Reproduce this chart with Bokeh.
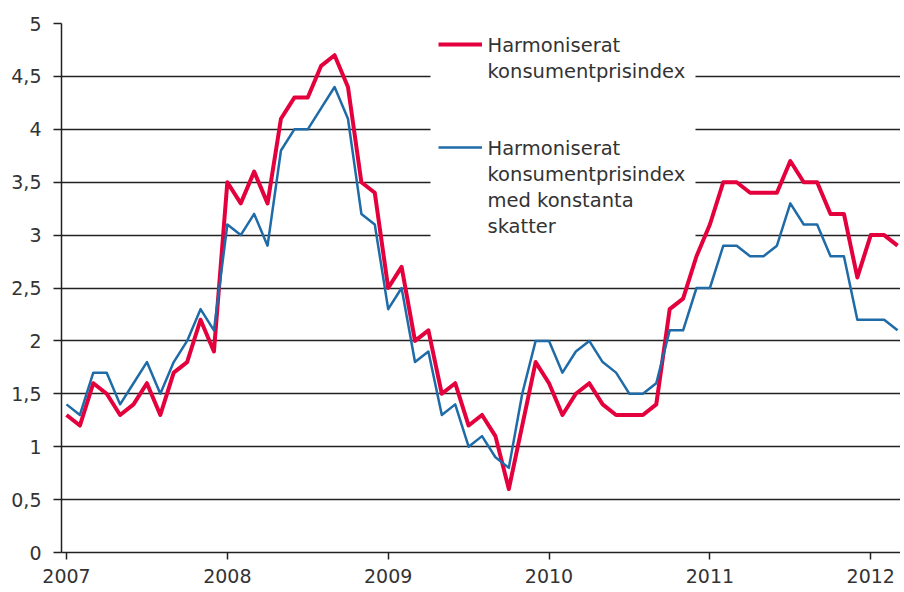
from bokeh.plotting import figure
from bokeh.models import (Range1d, FixedTicker, CustomJSTickFormatter, Grid,
                          Legend, LegendItem, Label, BoxAnnotation)
from bokeh.embed import file_html
from bokeh.resources import INLINE

# ---- data -------------------------------------------------------------
start_year = 2007
hicp = [
    1.3, 1.2, 1.6, 1.5, 1.3, 1.4, 1.6, 1.3, 1.7, 1.8, 2.2, 1.9,
    3.5, 3.3, 3.6, 3.3, 4.1, 4.3, 4.3, 4.6, 4.7, 4.4, 3.5, 3.4,
    2.5, 2.7, 2.0, 2.1, 1.5, 1.6, 1.2, 1.3, 1.1, 0.6, 1.2, 1.8,
    1.6, 1.3, 1.5, 1.6, 1.4, 1.3, 1.3, 1.3, 1.4, 2.3, 2.4, 2.8,
    3.1, 3.5, 3.5, 3.4, 3.4, 3.4, 3.7, 3.5, 3.5, 3.2, 3.2, 2.6,
    3.0, 3.0, 2.9,
]
hicp_const_tax = [
    1.4, 1.3, 1.7, 1.7, 1.4, 1.6, 1.8, 1.5, 1.8, 2.0, 2.3, 2.1,
    3.1, 3.0, 3.2, 2.9, 3.8, 4.0, 4.0, 4.2, 4.4, 4.1, 3.2, 3.1,
    2.3, 2.5, 1.8, 1.9, 1.3, 1.4, 1.0, 1.1, 0.9, 0.8, 1.5, 2.0,
    2.0, 1.7, 1.9, 2.0, 1.8, 1.7, 1.5, 1.5, 1.6, 2.1, 2.1, 2.5,
    2.5, 2.9, 2.9, 2.8, 2.8, 2.9, 3.3, 3.1, 3.1, 2.8, 2.8, 2.2,
    2.2, 2.2, 2.1,
]
x_ticks = [2007, 2008, 2009, 2010, 2011, 2012]
y_ticks = [0, 0.5, 1, 1.5, 2, 2.5, 3, 3.5, 4, 4.5, 5]
label_hicp = "Harmoniserat\nkonsumentprisindex"
label_const = "Harmoniserat\nkonsumentprisindex\nmed konstanta\nskatter"

x = [start_year + i / 12 for i in range(len(hicp))]

FONT = "DejaVu Sans"
TXT = "#333333"

p = figure(width=900, height=590, output_backend="svg", toolbar_location=None,
           x_range=Range1d(2006.969, 2012.185), y_range=Range1d(0, 5),
           min_border_left=61, min_border_right=0, min_border_top=23,
           min_border_bottom=38)
p.outline_line_color = None
p.background_fill_color = "white"
p.border_fill_color = "white"

# grid
p.xgrid.visible = False
p.ygrid.ticker = FixedTicker(ticks=[t for t in y_ticks if 0 < t < 5])
p.ygrid.grid_line_color = "#222222"
p.ygrid.grid_line_width = 1.5
top_grid = Grid(dimension=1, ticker=FixedTicker(ticks=[5]),
                grid_line_color="#9a9a9a", grid_line_width=1.5,
                grid_line_dash="2 2")
p.add_layout(top_grid)

# lines
r_red = p.line(x, hicp, line_color="#E4003C", line_width=4, line_join="round")
r_blue = p.line(x, hicp_const_tax, line_color="#1E6BA8", line_width=2.5,
                line_join="round")

# axes
p.yaxis.ticker = FixedTicker(ticks=y_ticks)
p.yaxis.formatter = CustomJSTickFormatter(code="return tick.toString().replace('.', ',')")
p.yaxis.major_tick_out = 8
p.yaxis.major_tick_in = 0
p.yaxis.minor_tick_line_color = None
p.yaxis.major_label_standoff = 12
p.yaxis.axis_line_color = "#222222"
p.yaxis.axis_line_width = 1.5
p.yaxis.major_tick_line_color = "#222222"
p.yaxis.major_tick_line_width = 1.5

p.xaxis.ticker = FixedTicker(ticks=x_ticks)
p.xaxis.formatter = CustomJSTickFormatter(code="return Math.round(tick).toString()")
p.xaxis.major_tick_out = 7
p.xaxis.major_tick_in = 0
p.xaxis.minor_tick_line_color = None
p.xaxis.major_label_standoff = 9
p.xaxis.axis_line_color = "#222222"
p.xaxis.axis_line_width = 1.5
p.xaxis.major_tick_line_color = "#222222"
p.xaxis.major_tick_line_width = 1.5

for ax in (p.xaxis, p.yaxis):
    ax.major_label_text_font = FONT
    ax.major_label_text_font_size = "19px"
    ax.major_label_text_color = TXT

# legend: white panel, sample lines, multi-line labels (screen units, frame-relative)
panel = BoxAnnotation(left=369, right=634, top=525, bottom=313,
                      left_units="screen", right_units="screen",
                      top_units="screen", bottom_units="screen",
                      fill_color="white", fill_alpha=1.0, line_color=None,
                      level="annotation")
p.add_layout(panel)

legend = Legend(
    items=[LegendItem(label=" ", renderers=[r_red]),
           LegendItem(label=" ", renderers=[r_blue])],
    location=(377, 395), orientation="vertical",
    background_fill_alpha=0.0, border_line_color=None,
    label_text_font_size="1px", label_standoff=0,
    glyph_width=44, glyph_height=20,
    padding=0, spacing=83, margin=0,
)
p.add_layout(legend)

for txt, ytop in ((label_hicp, 519), (label_const, 416)):
    p.add_layout(Label(x=426, y=ytop, x_units="screen", y_units="screen",
                       text=txt, text_font=FONT, text_font_size="19.5px",
                       text_color=TXT, text_align="left", text_baseline="top",
                       text_line_height=1.14))

open("out.html", "w").write(file_html(p, INLINE))
